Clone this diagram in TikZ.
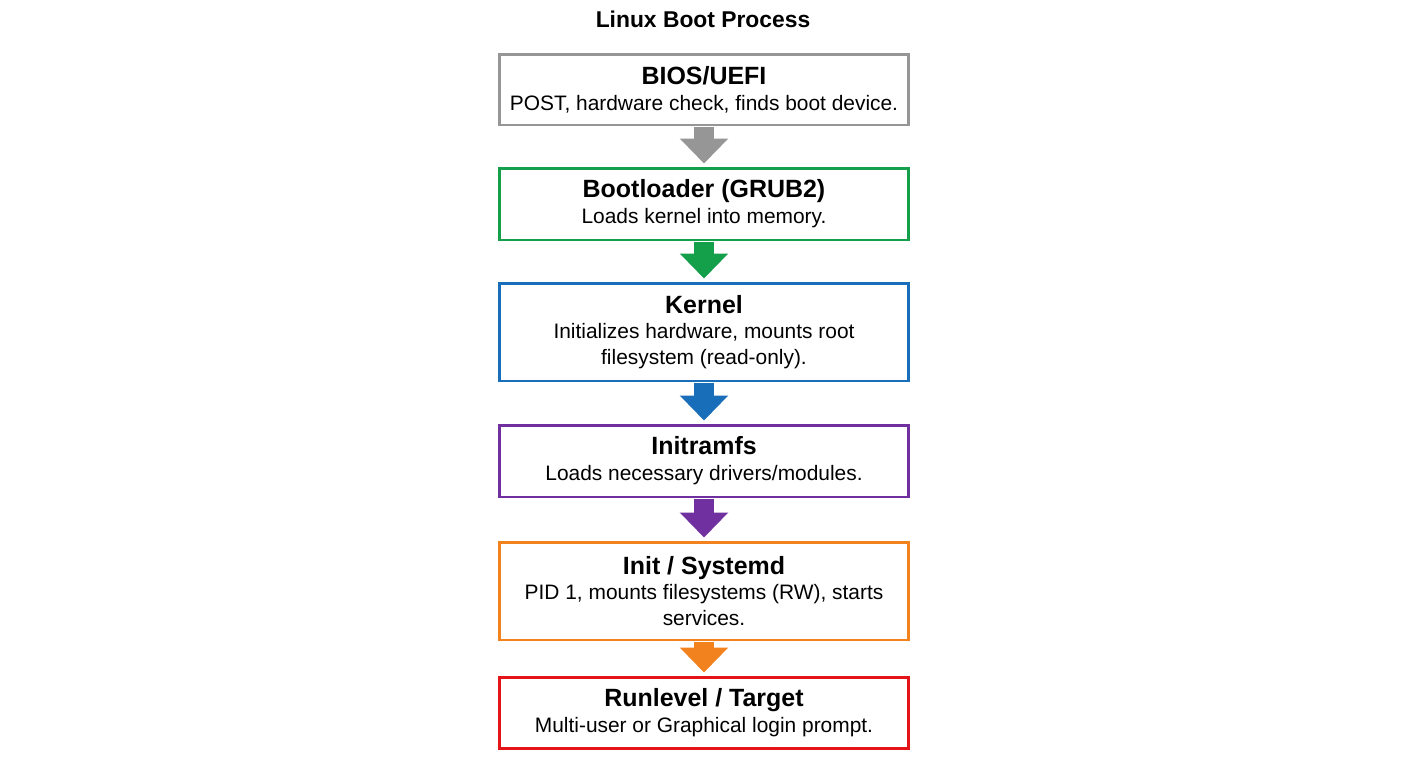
\documentclass[tikz,border=0pt]{standalone}
\usepackage{fontspec}
\setmainfont{Liberation Sans}
\usetikzlibrary{arrows.meta,positioning}
\definecolor{biosgray}{RGB}{150,150,150}
\definecolor{grubgreen}{RGB}{20,160,75}
\definecolor{kernblue}{RGB}{25,110,185}
\definecolor{initpurple}{RGB}{112,48,160}
\definecolor{sysorange}{RGB}{242,130,30}
\definecolor{runred}{RGB}{228,20,25}
\tikzset{stage/.style={shape=rectangle, draw, fill=white, line width=1.7pt,
    minimum width=8.2cm, align=center, inner sep=0pt}}
\tikzset{flow/.style={line width=0.4cm, -{Triangle[width=0.94cm,length=0.5cm]},
    shorten >=0.06cm, shorten <=0.02cm}}
\newcommand{\stagehead}[1]{{\bfseries\fontsize{14.2}{14.7}\selectfont #1}}

\begin{document}
\begin{tikzpicture}[x=0.02cm, y=-0.02cm,
    every node/.style={font=\fontsize{11.9}{14.7}\selectfont}]
    \useasboundingbox[fill=white] (0,0) rectangle (1408,768);

    \node (title) at (703, 19) {\bfseries\fontsize{13}{14}\selectfont Linux Boot Process};

    \node[stage, draw=biosgray, minimum height=1.42cm] (bios) at (704, 89.5)
        {\stagehead{BIOS/UEFI}\\ POST, hardware check, finds boot device.};
    \node[stage, draw=grubgreen, minimum height=1.44cm] (grub) at (704, 204)
        {\stagehead{Bootloader (GRUB2)}\\ Loads kernel into memory.};
    \node[stage, draw=kernblue, minimum height=1.96cm] (kernel) at (704, 332)
        {\stagehead{Kernel}\\ Initializes hardware, mounts root\\ filesystem (read-only).};
    \node[stage, draw=initpurple, minimum height=1.44cm] (initramfs) at (704, 461)
        {\stagehead{Initramfs}\\ Loads necessary drivers/modules.};
    \node[stage, draw=sysorange, minimum height=1.96cm] (systemd) at (704, 591)
        {\stagehead{Init / Systemd}\\ PID 1, mounts filesystems (RW), starts\\ services.};
    \node[stage, draw=runred, minimum height=1.42cm] (target) at (704, 712.5)
        {\stagehead{Runlevel / Target}\\ Multi-user or Graphical login prompt.};

    \draw [flow][draw=biosgray, fill=biosgray] (bios) -- (grub);
    \draw [flow][draw=grubgreen, fill=grubgreen] (grub) -- (kernel);
    \draw [flow][draw=kernblue, fill=kernblue] (kernel) -- (initramfs);
    \draw [flow][draw=initpurple, fill=initpurple] (initramfs) -- (systemd);
    \draw [flow][draw=sysorange, fill=sysorange] (systemd) -- (target);

\end{tikzpicture}
\end{document}
